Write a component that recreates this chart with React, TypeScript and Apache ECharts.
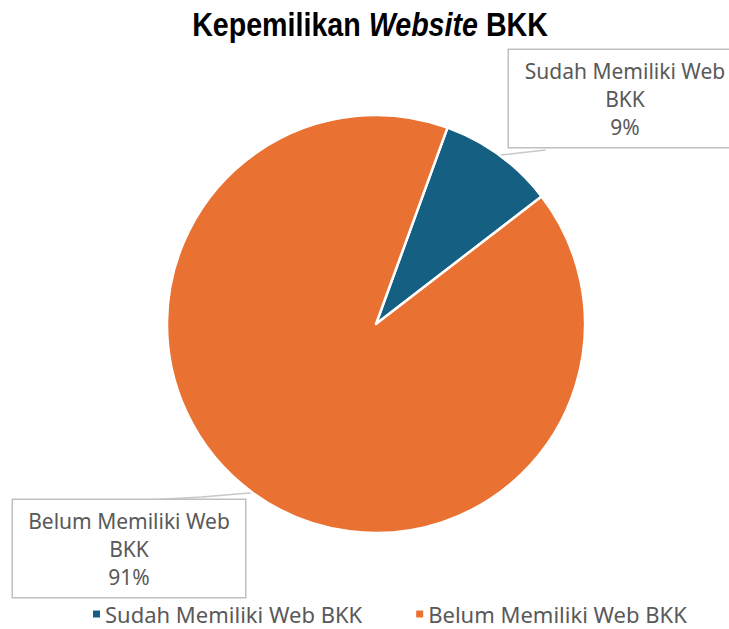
import React, { useEffect, useRef } from "react";
import * as echarts from "echarts";

const categories = ["Sudah Memiliki Web BKK", "Belum Memiliki Web BKK"];
const values = [9, 91];
const colors = ["#156082", "#E97132"];
const titleText = "Kepemilikan ";
const titleItalic = "Website";
const titleTail = " BKK";

const FONT = "'Noto Sans', 'Open Sans', sans-serif";
const TITLE_FONT = "'Liberation Sans', Arial, sans-serif";

export default function App() {
  const ref = useRef<HTMLDivElement>(null);
  useEffect(() => {
    if (!ref.current) return;
    const chart = echarts.init(ref.current, undefined, { renderer: "svg" });
    const total = values.reduce((a, b) => a + b, 0);

    // measure title to condense it like the narrow original font
    const cv = document.createElement("canvas").getContext("2d")!;
    cv.font = `bold 34px ${TITLE_FONT}`;
    let w = cv.measureText(titleText + titleTail).width;
    cv.font = `italic bold 34px ${TITLE_FONT}`;
    w += cv.measureText(titleItalic).width;
    const titleScale = 356 / w;

    const boxes = [
      { cx: 625, y: 50 },
      { cx: 129, y: 500 },
    ];
    chart.setOption({
      animation: false,
      backgroundColor: "#ffffff",
      graphic: [
        {
          type: "text",
          x: 370,
          y: 25,
          scaleX: titleScale,
          style: {
            text: `{b|${titleText}}{i|${titleItalic}}{b|${titleTail}}`,
            textAlign: "center",
            textVerticalAlign: "middle",
            rich: {
              b: {
                fontFamily: TITLE_FONT,
                fontWeight: "bold",
                fontSize: 34,
                fill: "#000000",
              },
              i: {
                fontFamily: TITLE_FONT,
                fontWeight: "bold",
                fontStyle: "italic",
                fontSize: 34,
                fill: "#000000",
              },
            },
          },
        },
      ],
      legend: {
        top: 597,
        left: 86,
        itemWidth: 9,
        itemHeight: 9,
        itemGap: 52,
        icon: "rect",
        textStyle: { fontFamily: FONT, fontSize: 22, lineHeight: 24, color: "#595959", padding: [0, 0, 0, -1] },
        data: categories,
      },
      series: [
        {
          type: "pie",
          center: [376, 324],
          radius: 209,
          startAngle: 70,
          clockwise: true,
          data: categories.map((c, i) => ({
            name: c,
            value: values[i],
            itemStyle: { color: colors[i] },
          })),
          itemStyle: { borderColor: "#ffffff", borderWidth: 2.5 },
          label: {
            show: true,
            position: "outside",
            formatter: (p: any) =>
              p.name.replace(" BKK", "\nBKK") + "\n" + Math.round((p.value / total) * 100) + "%",
            fontFamily: FONT,
            fontSize: 21,
            lineHeight: 28,
            color: "#595959",
            backgroundColor: "#ffffff",
            borderColor: "#bfbfbf",
            borderWidth: 1.5,
            width: 212,
            align: "center",
            padding: [7, 10, 6, 10],
          },
          labelLine: {
            show: true,
            length: 10,
            length2: 10,
            lineStyle: { color: "#c8c8c8", width: 1.5 },
          },
          labelLayout: (p: any) => {
            const b = boxes[p.dataIndex];
            const start = p.labelLinePoints ? p.labelLinePoints[0] : [0, 0];
            const h = p.labelRect.height;
            const wdt = p.labelRect.width;
            const left = b.cx - wdt / 2;
            const pts =
              p.dataIndex === 0
                ? [start, [left + 38, b.y + h]]
                : [start, [left + 190, b.y - 3], [left + 137, b.y]];
            return {
              x: b.cx,
              y: b.y,
              align: "center",
              verticalAlign: "top",
              labelLinePoints: pts,
            };
          },
        },
      ],
    });
    return () => chart.dispose();
  }, []);
  return (
    <div
      ref={ref}
      style={{ position: "fixed", left: 0, top: 0, width: 729, height: 629 }}
    />
  );
}
